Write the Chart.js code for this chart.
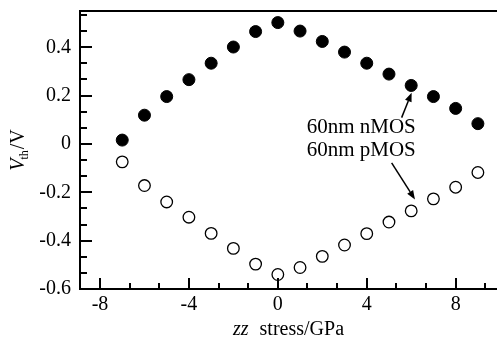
<!DOCTYPE html>
<html>
<head>
<meta charset="utf-8">
<script src="https://cdn.jsdelivr.net/npm/chart.js@4.4.1/dist/chart.umd.min.js"></script>
<style>
  html, body { margin: 0; padding: 0; background: #fff; }
  #chart-container { width: 497px; height: 339px; position: relative; }
</style>
</head>
<body>
<div id="chart-container"><canvas id="chart" width="497" height="339"></canvas></div>
<script>
// zz stress (GPa) and threshold voltage (V)
const stress = [-7, -6, -5, -4, -3, -2, -1, 0, 1, 2, 3, 4, 5, 6, 7, 8, 9];
const nmosVth = [0.016, 0.119, 0.196, 0.266, 0.334, 0.401, 0.465, 0.502, 0.467, 0.424, 0.380, 0.334, 0.289, 0.242, 0.196, 0.147, 0.084];
const pmosVth = [-0.074, -0.172, -0.240, -0.303, -0.370, -0.432, -0.497, -0.540, -0.511, -0.465, -0.418, -0.371, -0.323, -0.277, -0.227, -0.179, -0.118];
const seriesLabels = ['60nm nMOS', '60nm pMOS'];
const xTicks = [-8, -4, 0, 4, 8];
const yTicks = [-0.6, -0.4, -0.2, 0, 0.2, 0.4];

const SERIF = "'Liberation Serif', 'Times New Roman', serif";
Chart.defaults.font.family = SERIF;
Chart.defaults.font.size = 20;
Chart.defaults.color = '#000';

// inward ticks (major + 2 minor between), frame, axis titles, arrows
const decorations = {
    id: 'decorations',
    afterDraw(chart, args, opts) {
        const { ctx, chartArea: a, scales: { x, y } } = chart;
        ctx.save();
        ctx.strokeStyle = '#000';
        ctx.fillStyle = '#000';
        ctx.lineWidth = 2;

        // frame: left, bottom, top
        ctx.beginPath();
        ctx.moveTo(a.right + 2, a.top);
        ctx.lineTo(a.left, a.top);
        ctx.lineTo(a.left, a.bottom);
        ctx.lineTo(a.right + 2, a.bottom);
        ctx.stroke();

        // y ticks
        const ys = (yTicks[1] - yTicks[0]) / 3;
        for (let k = -30; k <= 60; k++) {
            const v = yTicks[0] + k * ys;
            if (v < y.min - 1e-9 || v > y.max + 1e-9) continue;
            const py = Math.round(y.getPixelForValue(v));
            const len = (k % 3 === 0) ? 12 : 7;
            ctx.beginPath();
            ctx.moveTo(a.left, py);
            ctx.lineTo(a.left + len, py);
            ctx.stroke();
        }
        // x ticks
        const xs = (xTicks[1] - xTicks[0]) / 3;
        for (let k = -30; k <= 60; k++) {
            const v = xTicks[0] + k * xs;
            if (v < x.min - 1e-9 || v > x.max + 1e-9) continue;
            const px = Math.round(x.getPixelForValue(v));
            const len = (k % 3 === 0) ? 11 : 6;
            ctx.beginPath();
            ctx.moveTo(px, a.bottom);
            ctx.lineTo(px, a.bottom - len);
            ctx.stroke();
        }

        // x title: "zz stress/GPa"
        ctx.textBaseline = 'alphabetic';
        ctx.textAlign = 'left';
        const cx = (a.left + a.right) / 2;
        ctx.font = 'italic 20px ' + SERIF;
        const w1 = ctx.measureText('zz').width;
        ctx.font = '20px ' + SERIF;
        const w2 = ctx.measureText('stress/GPa').width;
        const gap = 11;
        let sx = cx - (w1 + gap + w2) / 2;
        ctx.font = 'italic 20px ' + SERIF;
        ctx.fillText('zz', sx, 335);
        ctx.font = '20px ' + SERIF;
        ctx.fillText('stress/GPa', sx + w1 + gap, 335);

        // y title: "V_th/V", rotated
        ctx.save();
        ctx.translate(24, 150);
        ctx.rotate(-Math.PI / 2);
        ctx.font = 'italic 20px ' + SERIF;
        const v1 = ctx.measureText('V').width;
        ctx.font = '12px ' + SERIF;
        const v2 = ctx.measureText('th').width;
        ctx.font = '20px ' + SERIF;
        const v3 = ctx.measureText('/V').width;
        let tx = -(v1 + v2 + v3) / 2;
        ctx.font = 'italic 20px ' + SERIF;
        ctx.fillText('V', tx, 0);
        ctx.font = '12px ' + SERIF;
        ctx.fillText('th', tx + v1 - 1, 4);
        ctx.font = '20px ' + SERIF;
        ctx.fillText('/V', tx + v1 + v2, 0);
        ctx.restore();

        // series notes with arrows
        ctx.font = '21px ' + SERIF;
        ctx.textAlign = 'center';
        ctx.textBaseline = 'middle';
        ctx.lineWidth = 1.5;
        opts.notes.forEach(n => {
            ctx.fillText(n.text, x.getPixelForValue(n.at[0]), y.getPixelForValue(n.at[1]));
            const x0 = x.getPixelForValue(n.from[0]), y0 = y.getPixelForValue(n.from[1]);
            const x1 = x.getPixelForValue(n.to[0]), y1 = y.getPixelForValue(n.to[1]);
            const ang = Math.atan2(y1 - y0, x1 - x0);
            const hl = 9, hw = 3.5;
            const bx = x1 - hl * Math.cos(ang), by = y1 - hl * Math.sin(ang);
            ctx.beginPath();
            ctx.moveTo(x0, y0);
            ctx.lineTo(bx, by);
            ctx.stroke();
            ctx.beginPath();
            ctx.moveTo(x1, y1);
            ctx.lineTo(bx + hw * Math.sin(ang), by - hw * Math.cos(ang));
            ctx.lineTo(bx - hw * Math.sin(ang), by + hw * Math.cos(ang));
            ctx.closePath();
            ctx.fill();
        });
        ctx.restore();
    }
};

const chart = document.getElementById('chart').getContext('2d');
const chartData = {
    datasets: [{
        label: seriesLabels[0],
        data: stress.map((s, i) => ({ x: s, y: nmosVth[i] })),
        pointRadius: 6,
        pointBackgroundColor: '#000',
        pointBorderColor: '#000',
        pointBorderWidth: 1
    }, {
        label: seriesLabels[1],
        data: stress.map((s, i) => ({ x: s, y: pmosVth[i] })),
        pointRadius: 5.8,
        pointBackgroundColor: '#fff',
        pointBorderColor: '#000',
        pointBorderWidth: 1.3
    }]
};

const chartConfig = {
    type: 'scatter',
    data: chartData,
    options: {
        responsive: false,
        animation: false,
        layout: { autoPadding: false, padding: { top: 11, left: 0, right: 0, bottom: 0 } },
        plugins: {
            legend: { display: false },
            tooltip: { enabled: false },
            decorations: {
                notes: [
                    { text: seriesLabels[0], at: [3.75, 0.067], from: [5.57, 0.109], to: [6.02, 0.212] },
                    { text: seriesLabels[1], at: [3.75, -0.025], from: [5.12, -0.078], to: [6.17, -0.230] }
                ]
            }
        },
        scales: {
            x: {
                type: 'linear',
                min: -8.9,
                max: 9.86,
                grid: { display: false, drawTicks: false },
                border: { display: false },
                afterBuildTicks: s => { s.ticks = xTicks.map(v => ({ value: v })); },
                afterFit: s => { s.height = 50; s.paddingLeft = 0; s.paddingRight = 0; },
                ticks: {
                    padding: 4,
                    maxRotation: 0,
                    callback: v => String(v)
                }
            },
            y: {
                type: 'linear',
                min: -0.6,
                max: 0.55,
                grid: { display: false, drawTicks: false },
                border: { display: false },
                afterBuildTicks: s => { s.ticks = yTicks.map(v => ({ value: v })); },
                afterFit: s => { s.width = 80; s.paddingTop = 0; s.paddingBottom = 0; },
                ticks: {
                    padding: 9,
                    callback: v => (Math.abs(v) < 1e-9 ? '0' : v.toFixed(1))
                }
            }
        }
    },
    plugins: [decorations]
};

const myChart = new Chart(chart, chartConfig);
</script>
</body>
</html>
